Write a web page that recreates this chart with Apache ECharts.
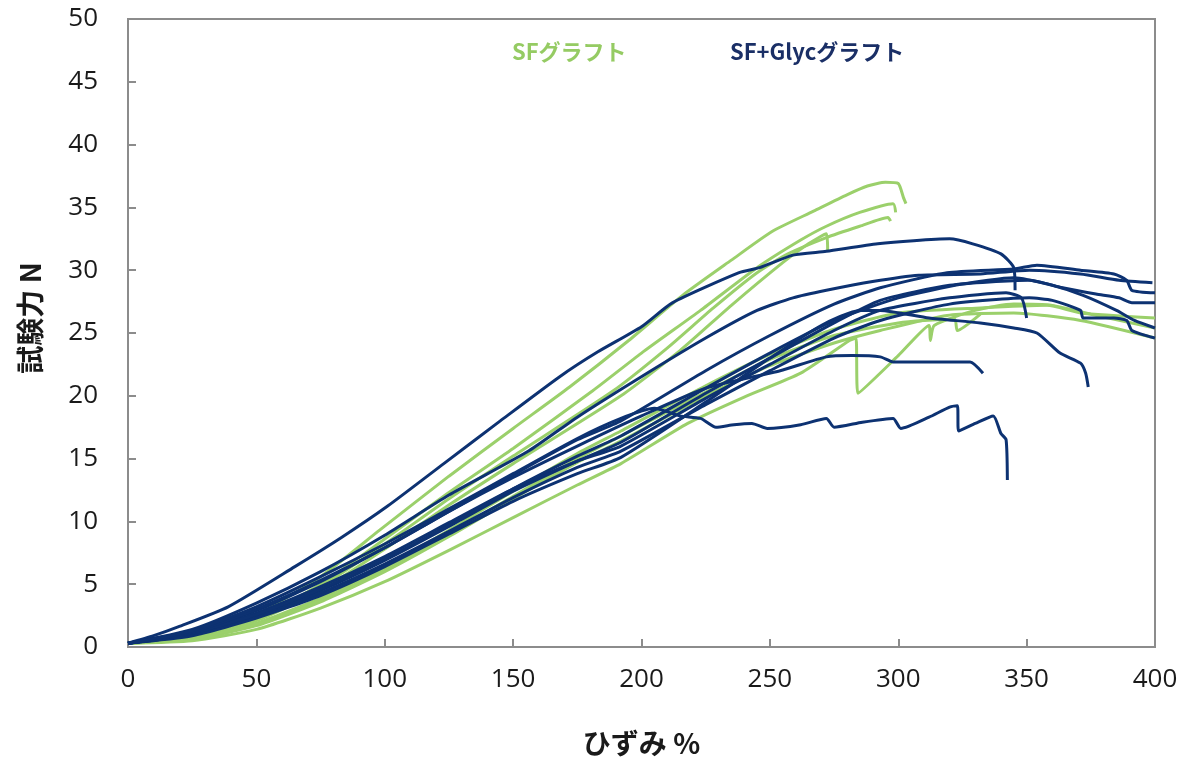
<!DOCTYPE html>
<html>
<head>
<meta charset="utf-8">
<script src="https://cdn.jsdelivr.net/npm/echarts@6/dist/echarts.min.js"></script>
<style>
  html, body { margin: 0; padding: 0; background: #fff; }
  #chart { width: 1190px; height: 765px; }
</style>
</head>
<body>
<div id="chart"></div>
<script>
// ── axis ticks ──────────────────────────────────────────────
const X_TICKS = [0, 50, 100, 150, 200, 250, 300, 350, 400];
const Y_TICKS = [0, 5, 10, 15, 20, 25, 30, 35, 40, 45, 50];

// ── SFグラフト (green) · [ひずみ %, 試験力 N] ──
const sf1 = [[0,0.3],[25,0.9],[50,2.6],[75,5.6],[98,9.3],[125,13.6],[150,17.4],[172,20.7],[195,24.4],[216,28.0],[235,30.8],[251,33.1],[267,34.7],[280,36.0],[288,36.7],[295,37.0],[300,36.9],[302,35.8],[303,35.3]];
const sf2 = [[0,0.3],[25,0.8],[50,2.3],[75,5.0],[100,8.6],[125,12.3],[150,15.8],[181,20.4],[200,23.4],[223,26.8],[245,30.2],[262,32.4],[272,33.5],[285,34.6],[298,35.3],[299,34.6]];
const sf3 = [[0,0.3],[25,0.8],[50,2.2],[75,4.8],[100,8.2],[125,11.8],[150,15.2],[189,20.4],[210,23.8],[228,27.0],[245,29.8],[257,31.3],[272,32.6],[285,33.5],[296,34.2],[297,33.9]];
const sf4 = [[0,0.3],[25,0.8],[50,2.1],[75,4.5],[100,7.8],[125,11.3],[150,14.6],[192,20.0],[215,23.6],[235,27.2],[255,30.6],[265,32.1],[272,32.9],[272.5,31.6]];
const sf5 = [[0,0.3],[25,0.7],[50,1.9],[75,3.9],[100,6.4],[125,9.3],[150,12.4],[175,15.4],[192,17.2],[225,20.8],[250,23.3],[275,25.3],[300,26.6],[332,27.0],[358,27.2],[371,26.6],[400,26.2]];
const sf6 = [[0,0.3],[25,0.6],[50,1.7],[75,3.6],[100,6.0],[125,8.8],[150,11.8],[175,14.7],[192,16.4],[225,20.0],[250,22.4],[275,24.2],[293,25.2],[319,26.4],[345,26.6],[371,26.0],[400,24.6]];
const sf7 = [[0,0.3],[25,0.5],[50,1.4],[75,3.1],[100,5.2],[125,7.7],[150,10.3],[175,12.9],[192,14.6],[218,17.8],[240,19.9],[262,21.8],[281,24.4],[283.5,24.6],[284.3,20.2],[300,23.2],[312,25.6],[312.5,24.4],[314,25.6],[330,26.8],[345,27.3],[360,27.2],[375,26.5],[400,25.4]];
const sf8 = [[0,0.3],[25,0.7],[50,1.8],[75,3.7],[100,6.2],[125,9.0],[150,12.0],[175,15.0],[192,16.8],[225,20.3],[250,22.9],[275,24.8],[300,25.8],[310,26.0],[322,26.1],[323,25.2],[332,26.5]];

// ── SF+Glycグラフト (navy) ─────────────────────────────────
const gl1 = [[0,0.3],[10,0.9],[19.5,1.6],[39,3.2],[65,6.4],[83,8.7],[101,11.2],[123,14.6],[145,18.0],[168,21.5],[183,23.5],[200,25.5],[212,27.4],[238,29.8],[246,30.2],[259,31.2],[272,31.5],[292,32.1],[320,32.5],[329,32.1],[340,31.3],[345,30.2],[345.5,28.4]];
const gl2 = [[0,0.3],[25,1.4],[50,3.5],[75,6.0],[100,8.9],[125,12.1],[156,15.6],[175,18.3],[199,21.4],[225,24.6],[245,26.8],[259,27.8],[272,28.4],[290,29.1],[308,29.6],[332,29.7],[351,30.0],[371,29.7],[386,29.2],[399,29.0]];
const gl3 = [[0,0.3],[25,1.2],[50,2.9],[75,5.2],[100,7.9],[125,10.8],[150,13.7],[175,16.5],[192,18.0],[225,22.0],[250,24.8],[275,27.3],[293,28.6],[319,29.8],[345,30.1],[354,30.4],[371,30.0],[384,29.7],[389,29.2],[391,28.4],[400,28.2]];
const gl4 = [[0,0.3],[25,1.0],[50,2.5],[75,4.5],[100,6.9],[125,9.6],[150,12.4],[175,14.8],[192,16.3],[225,20.2],[250,23.0],[275,25.8],[293,27.6],[320,28.8],[351,29.2],[364,28.6],[377,28.1],[386,27.8],[391,27.4],[400,27.4]];
const gl5 = [[0,0.3],[25,1.1],[50,2.7],[75,4.8],[100,7.2],[125,9.9],[150,12.6],[175,14.8],[192,16.0],[225,19.8],[250,22.5],[275,25.2],[293,26.8],[320,27.8],[342,28.2],[348,27.8],[350,26.2]];
const gl6 = [[0,0.3],[25,1.0],[50,2.4],[75,4.3],[100,6.6],[125,9.2],[150,11.9],[175,14.3],[192,15.6],[225,19.3],[250,22.0],[275,24.6],[293,26.0],[320,27.3],[351,27.8],[360,27.6],[371,26.8],[372,26.2],[384,26.2],[389,26.0],[391,25.2],[400,24.6]];
const gl7 = [[0,0.3],[25,0.9],[50,2.3],[75,4.1],[100,6.4],[125,9.0],[150,11.6],[175,13.8],[192,15.1],[225,19.5],[250,23.0],[270,25.6],[285,26.8],[293,26.8],[312,26.2],[332,25.8],[345,25.4],[354,25.0],[363,23.4],[371,22.6],[373,21.8],[374,20.7]];
const gl8 = [[0,0.3],[25,1.1],[50,2.6],[75,4.6],[100,7.0],[125,9.7],[150,12.6],[175,15.2],[192,16.8],[225,20.6],[250,23.4],[275,26.0],[300,27.8],[325,28.9],[345,29.4],[360,28.8],[372,28.0],[385,26.8],[392,26.0],[400,25.4]];
const gl9 = [[0,0.3],[25,1.2],[50,3.0],[75,5.3],[100,7.9],[125,10.8],[150,13.5],[175,16.0],[200,18.4],[225,20.6],[254,22.0],[272,23.1],[282,23.2],[293,23.1],[298,22.7],[328,22.7],[333,21.8]];
const gl10 = [[0,0.3],[25,1.3],[50,3.2],[75,5.6],[100,8.2],[125,11.0],[150,13.8],[175,16.6],[192,18.2],[205,19.0],[215,18.4],[223,18.2],[229,17.5],[236,17.7],[243,17.8],[249,17.4],[262,17.7],[272,18.2],[275,17.5],[286,17.9],[298,18.2],[301,17.4],[312,18.3],[320,19.1],[323,19.2],[323.5,17.2],[330,17.8],[337,18.4],[340,17.0],[342,16.5],[342.5,13.3]];

const SF_CURVES = [sf1, sf2, sf3, sf4, sf5, sf6, sf7, sf8];
const GLYC_CURVES = [gl1, gl2, gl3, gl4, gl5, gl6, gl7, gl8, gl9, gl10];

const GREEN = '#9bd06b';
const NAVY = '#0d3272';
const AXIS = '#8c8c8c';
const FONT = '"Open Sans", "Noto Sans CJK JP", sans-serif';
const JP = '"Noto Sans CJK JP", sans-serif';

function curve(name, data, color) {
  return {
    name, type: 'line', data, showSymbol: false, smooth: 0.2,
    lineStyle: { color, width: 3 }, itemStyle: { color },
    animation: false, silent: true,
  };
}

const chart = echarts.init(document.getElementById('chart'), null, { renderer: 'canvas' });
chart.setOption({
  backgroundColor: '#fff',
  animation: false,
  grid: { left: 128, right: 35, top: 19, bottom: 118, show: true, borderColor: AXIS, borderWidth: 2 },
  xAxis: {
    type: 'value', min: X_TICKS[0], max: X_TICKS[X_TICKS.length - 1], interval: 50,
    name: 'ひずみ %', nameLocation: 'middle', nameGap: 82,
    nameTextStyle: { color: '#1a1a1a', fontFamily: JP, fontWeight: 'bold', fontSize: 28 },
    axisLine: { lineStyle: { color: AXIS, width: 2 } },
    axisTick: { inside: true, length: 8, lineStyle: { color: AXIS, width: 2 } },
    axisLabel: { color: '#1a1a1a', fontFamily: FONT, fontSize: 26, margin: 20 },
    splitLine: { show: false },
  },
  yAxis: {
    type: 'value', min: Y_TICKS[0], max: Y_TICKS[Y_TICKS.length - 1], interval: 5,
    axisLine: { show: true, lineStyle: { color: AXIS, width: 2 } },
    axisTick: { show: true, inside: true, length: 8, lineStyle: { color: AXIS, width: 2 } },
    axisLabel: { color: '#1a1a1a', fontFamily: FONT, fontSize: 26, margin: 30 },
    splitLine: { show: false },
  },
  graphic: [
    { type: 'text', left: 512, top: 41, style: { text: 'SFグラフト', fill: '#95cb63', font: 'bold 22px ' + JP } },
    { type: 'text', left: 730, top: 41, style: { text: 'SF+Glycグラフト', fill: '#1a2f66', font: 'bold 22px ' + JP } },
    // y-axis title sits a little above the axis middle in the original
    { type: 'text', x: 30, y: 318, rotation: Math.PI / 2,
      style: { text: '試験力 N', fill: '#1a1a1a', font: 'bold 28px ' + JP, align: 'center', verticalAlign: 'middle' } },
  ],
  series: SF_CURVES.map(d => curve('SFグラフト', d, GREEN))
    .concat(GLYC_CURVES.map(d => curve('SF+Glycグラフト', d, NAVY))),
});
</script>
</body>
</html>
